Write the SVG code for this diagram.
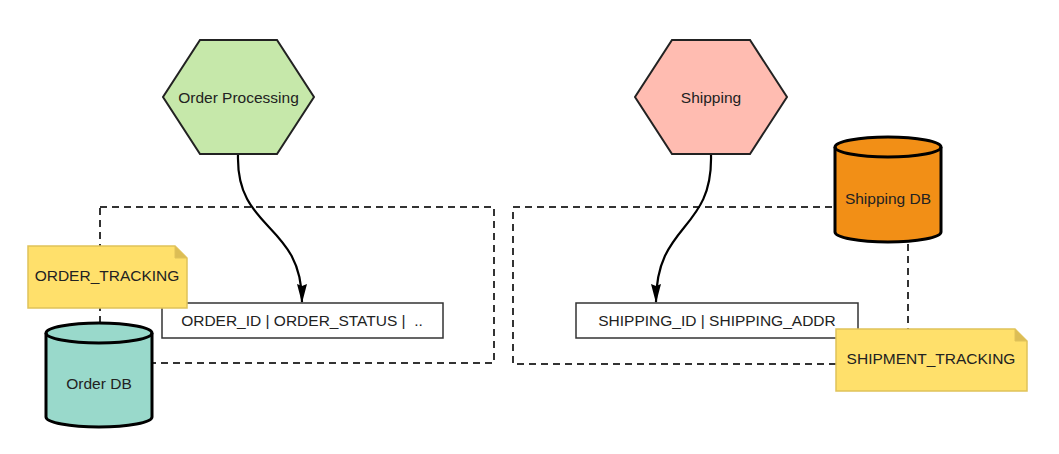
<svg xmlns="http://www.w3.org/2000/svg" width="1059" height="454" viewBox="0 0 1059 454">
<style>
text{font-family:"Liberation Sans",Arial,sans-serif;font-size:15.5px;fill:#222;text-anchor:middle;dominant-baseline:central;white-space:pre}
.bound{fill:none;stroke:#333;stroke-width:2;stroke-dasharray:7 5}
.hex{stroke:#222;stroke-width:2}
.db{stroke:#000;stroke-width:3}
.note{fill:#ffe06b;stroke:#e0c25a;stroke-width:1.5}
.fold{fill:#dcbd55;stroke:#e0c25a;stroke-width:1}
.tbl{fill:#fff;stroke:#333;stroke-width:1.5}
.flow{fill:none;stroke:#000;stroke-width:2.2}
</style>
<defs>
<marker id="arr" viewBox="0 0 19 10" refX="18" refY="5" markerWidth="19" markerHeight="10" orient="auto" markerUnits="userSpaceOnUse">
<path d="M0,0 L19,5 L0,10 L2,5 Z" fill="#000"/>
</marker>
</defs>
<rect width="1059" height="454" fill="#fff"/>
<g id="boundaries">
<rect class="bound" x="100" y="207" width="394" height="156"/>
<rect class="bound" x="513" y="207" width="395" height="157"/>
</g>
<g id="order-processing">
<polygon class="hex" fill="#c6e8aa" points="200,40 277,40 314,97 277,154 200,154 163,97"/>
<text x="238.5" y="97">Order Processing</text>
</g>
<g id="shipping">
<polygon class="hex" fill="#ffbcb1" points="672,40 750,40 787,97 750,154 672,154 635,97"/>
<text x="711" y="97">Shipping</text>
</g>
<g id="order-table">
<rect class="tbl" x="162" y="303" width="281" height="35"/>
<text x="302" y="320.5" xml:space="preserve">ORDER_ID | ORDER_STATUS |  ..</text>
</g>
<g id="shipping-table">
<rect class="tbl" x="576" y="303" width="282" height="35"/>
<text x="717" y="320.5">SHIPPING_ID | SHIPPING_ADDR</text>
</g>
<g id="order-tracking">
<path class="note" d="M28,246 H175 L187,258 V308 H28 Z"/>
<path class="fold" d="M175,246 V258 H187 Z"/>
<text x="107" y="275">ORDER_TRACKING</text>
</g>
<g id="order-db">
<path class="db" fill="#99d9cb" d="M46,333 A53,10 0 0,1 152,333 V417 A53,10 0 0,1 46,417 Z"/>
<path class="db" fill="none" d="M46,333 A53,10 0 0,0 152,333"/>
<text x="99" y="383">Order DB</text>
</g>
<g id="shipping-db">
<path class="db" fill="#f28f16" d="M835,147 A53,10 0 0,1 941,147 V232 A53,10 0 0,1 835,232 Z"/>
<path class="db" fill="none" d="M835,147 A53,10 0 0,0 941,147"/>
<text x="888" y="198">Shipping DB</text>
</g>
<g id="shipment-tracking">
<path class="note" d="M836,329 H1015 L1027,341 V391 H836 Z"/>
<path class="fold" d="M1015,329 V341 H1027 Z"/>
<text x="931" y="358">SHIPMENT_TRACKING</text>
</g>
<g id="connectors">
<path class="flow" marker-end="url(#arr)" d="M238,155 C236,232 302,222 302,302"/>
<path class="flow" marker-end="url(#arr)" d="M711,155 C713,232 656,222 656,302"/>
</g>
</svg>
